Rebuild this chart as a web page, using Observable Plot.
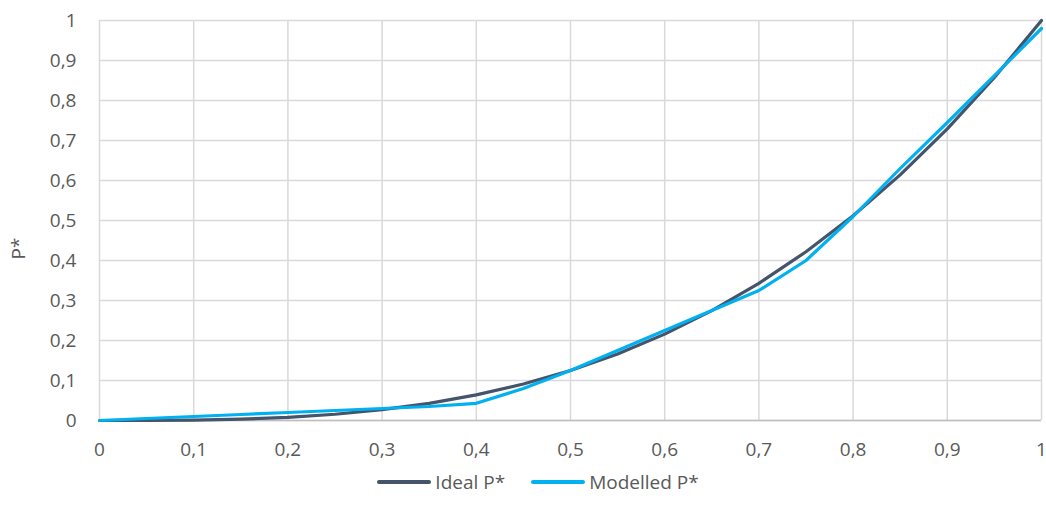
<!DOCTYPE html>
<html>
<head>
<meta charset="utf-8">
<script src="https://cdn.jsdelivr.net/npm/d3@7"></script>
<script src="https://cdn.jsdelivr.net/npm/@observablehq/plot@0.6"></script>
<style>
  body { margin: 0; background: #fff; font-family: "Open Sans", sans-serif; }
  #chart { width: 1046px; }
  .legend { display: flex; justify-content: center; align-items: center; gap: 26px; margin-top: 0px; margin-left: 30px; font-size: 19px; line-height: 24px; color: #595959; }
  .legend span.item { display: flex; align-items: center; }
  .legend span.sw { display: inline-block; width: 54px; height: 4px; border-radius: 2px; margin-right: 4px; }
</style>
</head>
<body>
<div id="chart"></div>
<script>
const xValues = [0, 0.05, 0.1, 0.15, 0.2, 0.25, 0.3, 0.35, 0.4, 0.45, 0.5, 0.55, 0.6, 0.65, 0.7, 0.75, 0.8, 0.85, 0.9, 0.95, 1];
const idealP = [0, 0.000125, 0.001, 0.0034, 0.008, 0.0156, 0.027, 0.0429, 0.064, 0.0911, 0.125, 0.1664, 0.216, 0.2746, 0.343, 0.4219, 0.512, 0.6141, 0.729, 0.8574, 1];
const modelledP = [0, 0.005, 0.01, 0.015, 0.02, 0.025, 0.03, 0.035, 0.043, 0.08, 0.125, 0.175, 0.225, 0.275, 0.325, 0.40, 0.51, 0.63, 0.745, 0.862, 0.98];
const seriesNames = ["Ideal P*", "Modelled P*"];
const seriesColors = ["#44546A", "#00B0F0"];
const tickValues = [0, 0.1, 0.2, 0.3, 0.4, 0.5, 0.6, 0.7, 0.8, 0.9, 1];

const fmt = v => String(Math.round(v * 10) / 10).replace(".", ",");
const data = [];
xValues.forEach((x, i) => {
  data.push({x, y: idealP[i], s: seriesNames[0]});
  data.push({x, y: modelledP[i], s: seriesNames[1]});
});

const chart = Plot.plot({
  width: 1046,
  height: 470,
  marginLeft: 99,
  marginRight: 5,
  marginTop: 20,
  marginBottom: 50,
  style: { fontFamily: "Open Sans, sans-serif", fontSize: "19px", color: "#595959", background: "#fff" },
  x: { domain: [0, 1], label: null },
  y: { domain: [0, 1], label: null },
  color: { domain: seriesNames, range: seriesColors },
  marks: [
    Plot.gridX(tickValues, { stroke: "#d9d9d9", strokeOpacity: 1, strokeWidth: 1.5 }),
    Plot.gridY(tickValues, { stroke: "#d9d9d9", strokeOpacity: 1, strokeWidth: 1.5 }),
    Plot.ruleY([0], { stroke: "#bfbfbf", strokeWidth: 1.5 }),
    Plot.axisX({ ticks: tickValues, tickFormat: fmt, tickSize: 0, tickPadding: 22, label: null, fontSize: 19, fill: "#595959" }),
    Plot.axisY({ ticks: tickValues, tickFormat: fmt, tickSize: 0, tickPadding: 23, label: null, fontSize: 19, fill: "#595959" }),
    Plot.line(data, { x: "x", y: "y", z: "s", stroke: "s", strokeWidth: 3.2, strokeLinejoin: "round" }),
    Plot.text(["P*"], { frameAnchor: "left", dx: -81, dy: 39, rotate: -90, fontSize: 19, fill: "#595959" })
  ]
});
document.getElementById("chart").appendChild(chart);

const legend = document.createElement("div");
legend.className = "legend";
seriesNames.forEach((n, i) => {
  const it = document.createElement("span");
  it.className = "item";
  it.innerHTML = `<span class="sw" style="background:${seriesColors[i]}"></span>${n}`;
  legend.appendChild(it);
});
document.getElementById("chart").appendChild(legend);
</script>
</body>
</html>
